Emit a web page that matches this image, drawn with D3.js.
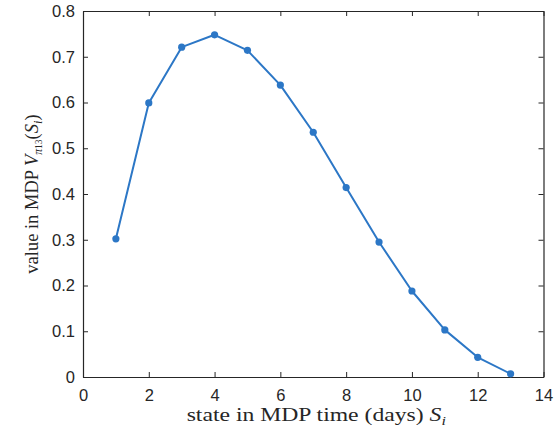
<!DOCTYPE html>
<html>
<head>
<meta charset="utf-8">
<script src="https://cdn.jsdelivr.net/npm/d3@7"></script>
<style>
  body { margin: 0; background: #fff; }
</style>
</head>
<body>
<div id="chart"></div>
<script>
// state index and value
var states = [1, 2, 3, 4, 5, 6, 7, 8, 9, 10, 11, 12, 13];
var values = [0.302, 0.599, 0.721, 0.748, 0.714, 0.638, 0.535, 0.414, 0.295, 0.188, 0.103, 0.043, 0.007];
var xTicks = [0, 2, 4, 6, 8, 10, 12, 14];
var yTicks = [0, 0.1, 0.2, 0.3, 0.4, 0.5, 0.6, 0.7, 0.8];

var W = 560, H = 434;
var margin = {top: 11, right: 16.5, bottom: 57, left: 83};
var width = W - margin.left - margin.right;
var height = H - margin.top - margin.bottom;
var axisColor = "#262626";

var svg = d3.select("#chart")
  .append("svg")
  .attr("width", W)
  .attr("height", H)
  .append("g")
  .attr("transform", "translate(" + margin.left + "," + margin.top + ")");

var x = d3.scaleLinear().domain([0, 14]).range([0, width]);
var y = d3.scaleLinear().domain([0, 0.8]).range([height, 0]);

// axes, ticks pointing inward like matlab
var styleAxis = function(g) {
  g.select(".domain").attr("stroke", axisColor).attr("stroke-width", 1.2);
  g.selectAll(".tick line").attr("stroke", axisColor).attr("stroke-width", 1);
  g.selectAll(".tick text")
    .attr("fill", axisColor)
    .style("font-family", "Liberation Sans, Arial, sans-serif")
    .style("font-size", "16.5px");
};

svg.append("g")
  .attr("transform", "translate(0," + height + ")")
  .call(d3.axisBottom(x).tickValues(xTicks).tickSize(-5).tickPadding(12).tickSizeOuter(0))
  .call(styleAxis);

svg.append("g")
  .call(d3.axisLeft(y).tickValues(yTicks).tickSize(-5).tickPadding(8).tickSizeOuter(0)
    .tickFormat(function(d) { return d === 0 ? "0" : d3.format(".1f")(d); }))
  .call(styleAxis);

svg.append("g")
  .call(d3.axisTop(x).tickValues(xTicks).tickSize(-5).tickFormat("").tickSizeOuter(0))
  .call(styleAxis);

svg.append("g")
  .attr("transform", "translate(" + width + ",0)")
  .call(d3.axisRight(y).tickValues(yTicks).tickSize(-5).tickFormat("").tickSizeOuter(0))
  .call(styleAxis);

var data = states.map(function(s, i) { return {x: s, y: values[i]}; });
var lineColor = "#2c77c6";

svg.append("path")
  .datum(data)
  .attr("fill", "none")
  .attr("stroke", lineColor)
  .attr("stroke-width", 2)
  .attr("stroke-linejoin", "round")
  .attr("d", d3.line().x(function(d) { return x(d.x); }).y(function(d) { return y(d.y); }));

svg.selectAll(".dot")
  .data(data)
  .enter()
  .append("circle")
  .attr("cx", function(d) { return x(d.x); })
  .attr("cy", function(d) { return y(d.y); })
  .attr("r", 3.6)
  .attr("fill", lineColor);

// axis labels (latex-ish serif, stretched a bit like the original)
var serif = "Liberation Serif, Times New Roman, serif";

var xl = svg.append("text")
  .attr("transform", "translate(" + (width / 2 + 3) + "," + (height + 44) + ") scale(1.28,1)")
  .attr("text-anchor", "middle")
  .attr("fill", axisColor)
  .style("font-family", serif)
  .style("font-size", "18.5px");
xl.append("tspan").text("state in MDP time (days) ");
xl.append("tspan").attr("font-style", "italic").text("S");
xl.append("tspan").attr("font-style", "italic").attr("font-size", "12.5px").attr("dy", 4).text("i");

var yl = svg.append("text")
  .attr("transform", "translate(-45," + (height / 2) + ") rotate(-90)")
  .attr("text-anchor", "middle")
  .attr("fill", axisColor)
  .style("font-family", serif)
  .style("font-size", "18.5px");
yl.append("tspan").text("value in MDP ");
yl.append("tspan").attr("font-style", "italic").text("V");
yl.append("tspan").attr("font-style", "italic").attr("font-size", "11.5px").attr("dy", 4).text("π");
yl.append("tspan").attr("font-size", "9.5px").text("13");
yl.append("tspan").attr("dy", -4).text("(");
yl.append("tspan").attr("font-style", "italic").text("S");
yl.append("tspan").attr("font-style", "italic").attr("font-size", "12.5px").attr("dy", 4).text("i");
yl.append("tspan").attr("dy", -4).text(")");
</script>
</body>
</html>
